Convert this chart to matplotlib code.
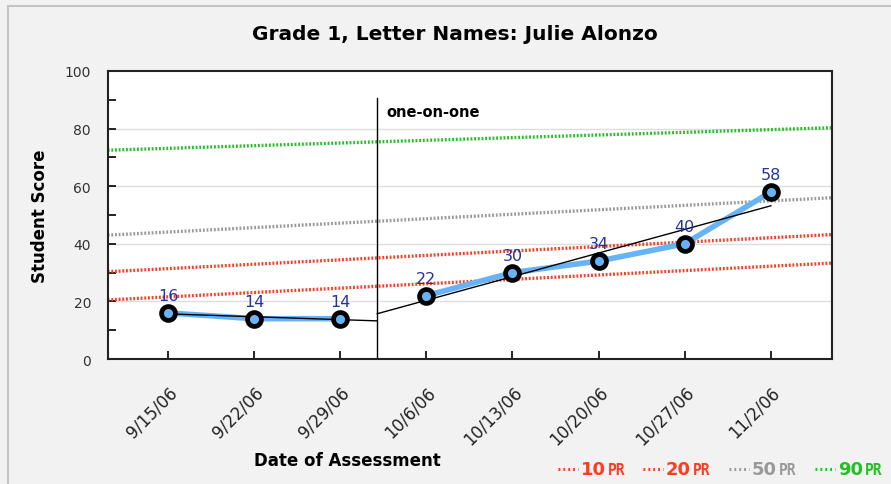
import matplotlib.pyplot as plt
import numpy as np
from matplotlib.lines import Line2D
from matplotlib.patches import Rectangle

# data
dates = ['9/15/06', '9/22/06', '9/29/06', '10/6/06', '10/13/06', '10/20/06', '10/27/06', '11/2/06']
scores = [16, 14, 14, 22, 30, 34, 40, 58]
phase_break = 2.43          # "one-on-one" starts between 9/29 and 10/6

pr_names = ['10', '20', '50', '90']
pr_start = [20.5, 30.3, 43.0, 72.5]
pr_end = [33.3, 43.2, 56.0, 80.3]
pr_colors = ['#ff3b22', '#ff3b22', '#999999', '#22c022']

W, H = 891, 485
fig = plt.figure(figsize=(W / 100, H / 100), dpi=100)
fig.patch.set_facecolor('#f2f2f2')
fig.add_artist(Rectangle((8 / W, -0.1), 1.1, (H - 7) / H + 0.1, transform=fig.transFigure,
                         fill=False, edgecolor='#c4c4c4', lw=1.5))

ax = fig.add_axes([107.7 / W, (H - 360) / H, (832 - 107.7) / W, (360 - 72) / H])
ax.set_facecolor('white')
x = np.arange(len(dates))
ax.set_xlim(-0.70, 7.71)
ax.set_ylim(0, 100)

# grid
for g in [20, 40, 60, 80]:
    ax.axhline(g, color='#dddddd', lw=1, zorder=1)

# percentile lines
for s, e, c in zip(pr_start, pr_end, pr_colors):
    ax.plot([-0.70, 7.71], [s, e], color=c, lw=2.4, ls=(0, (0.55, 0.55)), zorder=2)

# student scores
xs = np.array(x)
ys = np.array(scores)
p1 = xs < phase_break
ax.plot(xs[p1], ys[p1], color='#66b3f5', lw=4, zorder=3)
ax.plot(xs[~p1], ys[~p1], color='#66b3f5', lw=4, zorder=3)

# trend lines per phase
k1, b1 = np.polyfit(xs[p1], ys[p1], 1)
k2, b2 = np.polyfit(xs[~p1], ys[~p1], 1)
t1 = np.array([xs[p1][0], phase_break])
t2 = np.array([phase_break, xs[~p1][-1]])
ax.plot(t1, k1 * t1 + b1, color='black', lw=1, zorder=4)
ax.plot(t2, k2 * t2 + b2, color='black', lw=1, zorder=4)

ax.plot(xs, ys, 'o', ms=10, mfc='#66b3f5', mec='black', mew=3.4, zorder=5)
for xi, yi in zip(xs, ys):
    ax.annotate(str(yi), (xi, yi), xytext=(0, 7), textcoords='offset points',
                ha='center', va='bottom', color='#2433a0', fontsize=11.5, zorder=6)

# phase change line
ax.plot([phase_break, phase_break], [0, 90.5], color='black', lw=1, zorder=4)
ax.text(phase_break + 0.1, 86, 'one-on-one', fontsize=10.5, fontweight='bold', va='center')

# axes
for sp in ax.spines.values():
    sp.set_linewidth(1.5)
    sp.set_color('#222222')
ax.set_xticks(x)
ax.set_xticklabels(dates, rotation=45, ha='right', rotation_mode='anchor',
                   fontsize=12, color='#222222')
ax.set_yticks([0, 20, 40, 60, 80, 100])
ax.set_yticks(np.arange(10, 100, 20), minor=True)
ax.tick_params(axis='x', direction='in', length=6, width=1.2, pad=17)
ax.tick_params(axis='y', which='both', direction='in', length=6, width=1.2, pad=12,
               labelsize=10, labelcolor='#333333')

fig.text(347 / W, 1 - 461 / H, 'Date of Assessment', ha='center', va='center',
         fontsize=12, fontweight='bold')
fig.text(40 / W, 1 - 216 / H, 'Student Score', ha='center', va='center',
         fontsize=12, fontweight='bold', rotation=90)
fig.text(455 / W, 1 - 35 / H, 'Grade 1, Letter Names: Julie Alonzo', ha='center', va='center',
         fontsize=14.5, fontweight='bold')

# legend
lx = [558, 643, 729, 815]
ly = 1 - 470 / H
for name, c, x0 in zip(pr_names, pr_colors, lx):
    fig.add_artist(Line2D([x0 / W, (x0 + 20) / W], [ly, ly], transform=fig.transFigure,
                          color=c, lw=2.2, ls=(0, (0.6, 1.0))))
    fig.text((x0 + 23) / W, ly, name, color=c, fontsize=13, fontweight='bold',
             va='center', ha='left')
    fig.text((x0 + 50) / W, ly - 1 / H, 'PR', color=c, fontsize=10.5, fontweight='bold',
             va='center', ha='left', family='DejaVu Sans Mono')

fig.savefig('out.png', dpi=100, facecolor=fig.get_facecolor())
